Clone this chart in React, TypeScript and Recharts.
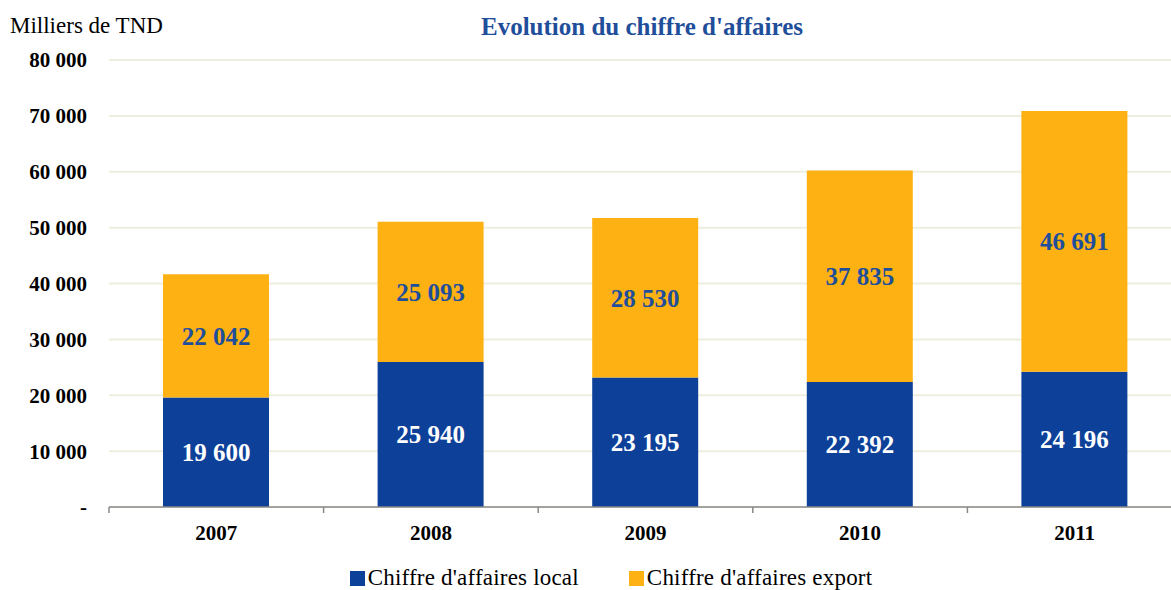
import { Bar, BarChart, CartesianGrid, LabelList, Legend, XAxis, YAxis } from "recharts";

const years = ["2007", "2008", "2009", "2010", "2011"];
const localValues = [19600, 25940, 23195, 22392, 24196];
const exportValues = [22042, 25093, 28530, 37835, 46691];
const yTicks = [0, 10000, 20000, 30000, 40000, 50000, 60000, 70000, 80000];

const data = years.map((year, i) => ({
  year,
  local: localValues[i],
  export: exportValues[i],
}));

const BLUE = "#0D4199";
const ORANGE = "#FDB113";
const TITLE_BLUE = "#1F4E9A";
const FONT = "'Liberation Serif', 'Times New Roman', serif";

const legendItems = [
  { label: "Chiffre d'affaires local", color: BLUE },
  { label: "Chiffre d'affaires export", color: ORANGE },
];

const fmt = (v: number) => (v === 0 ? "-" : String(v).replace(/\B(?=(\d{3})+(?!\d))/g, " "));

function YearTick(props: any) {
  const { x, y, payload, index } = props;
  const half = payload?.offset ?? 107;
  return (
    <g>
      <line x1={x - half} y1={y - 8} x2={x - half} y2={y - 2} stroke="#898989" strokeWidth={1.5} />
      {index === years.length - 1 && (
        <line x1={x + half} y1={y - 8} x2={x + half} y2={y - 2} stroke="#898989" strokeWidth={1.5} />
      )}
      <text x={x} y={y + 25} textAnchor="middle" fontSize={21} fontWeight="bold" fill="#000" fontFamily={FONT}>
        {payload.value}
      </text>
    </g>
  );
}

function LegendContent() {
  return (
    <div style={{ display: "flex", justifyContent: "center", gap: 50, paddingLeft: 40, paddingTop: 9, fontFamily: FONT }}>
      {legendItems.map((it) => (
        <div
          key={it.label}
          style={{ display: "flex", alignItems: "center", fontSize: 23, color: "#000", letterSpacing: 0.2, fontFamily: FONT }}
        >
          <span style={{ display: "inline-block", width: 15, height: 15, background: it.color, marginRight: 3 }} />
          <span style={{ fontFamily: FONT }}>{it.label}</span>
        </div>
      ))}
    </div>
  );
}

export default function App() {
  return (
    <div style={{ position: "absolute", left: 0, top: 0, width: 1171, height: 590, overflow: "hidden", background: "#fff", fontFamily: FONT }}>
      <div style={{ position: "absolute", left: 10, top: 13, fontSize: 23, color: "#000" }}>Milliers de TND</div>
      <div
        style={{
          position: "absolute",
          left: 0,
          width: 1284,
          top: 13,
          textAlign: "center",
          fontSize: 25,
          fontWeight: "bold",
          color: TITLE_BLUE,
        }}
      >
        Evolution du chiffre d'affaires
      </div>
      <BarChart
        width={1171}
        height={590}
        data={data}
        barSize={106}
        margin={{ top: 60, right: -11, left: 0, bottom: 0 }}
        style={{ overflow: "hidden" }}
      >
        <CartesianGrid stroke="#EEEEDF" strokeWidth={2} vertical={false} />
        <XAxis
          dataKey="year"
          axisLine={{ stroke: "#898989", strokeWidth: 1.5 }}
          tickLine={false}
          tick={<YearTick />}
          height={49}
          interval={0}
        />
        <YAxis
          width={109}
          domain={[0, 80000]}
          ticks={yTicks}
          tickFormatter={fmt}
          axisLine={false}
          tickLine={false}
          tickMargin={16}
          tick={{ fontSize: 21, fontWeight: "bold", fill: "#000", fontFamily: FONT }}
        />
        <Legend verticalAlign="bottom" height={34} content={<LegendContent />} />
        <Bar dataKey="local" name="Chiffre d'affaires local" stackId="a" fill={BLUE} isAnimationActive={false}>
          <LabelList
            dataKey="local"
            position="center"
            formatter={(v: any) => fmt(Number(v))}
            style={{ fill: "#fff", fontSize: 25, fontWeight: "bold", fontFamily: FONT }}
          />
        </Bar>
        <Bar dataKey="export" name="Chiffre d'affaires export" stackId="a" fill={ORANGE} isAnimationActive={false}>
          <LabelList
            dataKey="export"
            position="center"
            formatter={(v: any) => fmt(Number(v))}
            style={{ fill: TITLE_BLUE, fontSize: 25, fontWeight: "bold", fontFamily: FONT }}
          />
        </Bar>
      </BarChart>
    </div>
  );
}
